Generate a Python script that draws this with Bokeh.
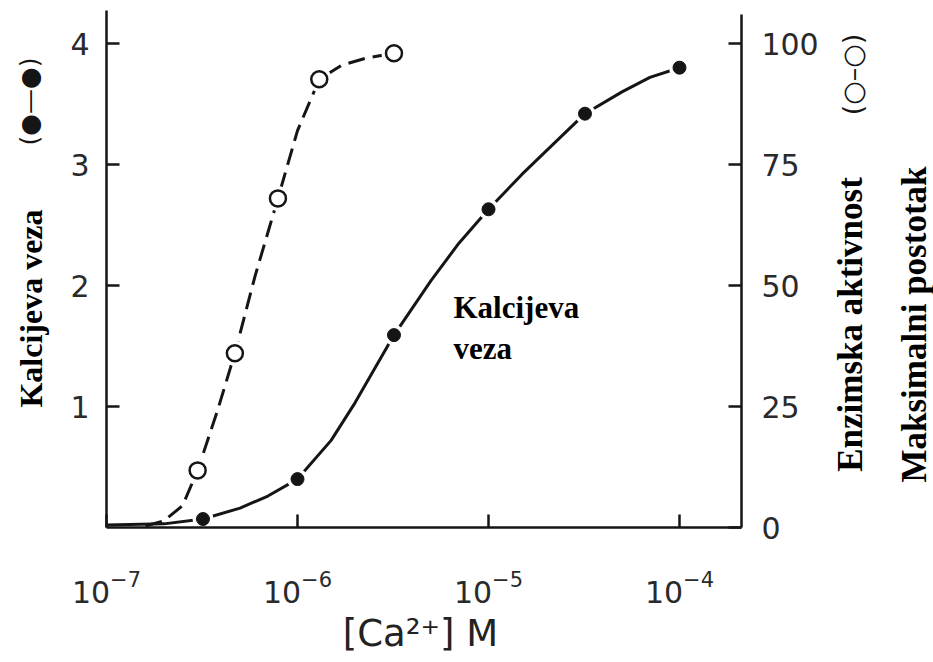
import math
from bokeh.plotting import figure
from bokeh.models import Range1d, LinearAxis, LogAxis, FixedTicker, Label, LogScale
from bokeh.embed import file_html
from bokeh.resources import INLINE

# ---- data ----
# calcium binding (filled circles, left axis)
ca_bind = [3.2e-7, 1.0e-6, 3.2e-6, 1.0e-5, 3.2e-5, 1.0e-4]
bind = [0.07, 0.40, 1.59, 2.63, 3.42, 3.80]
# enzyme activity (open circles, right axis, % of maximum)
ca_act = [3.0e-7, 4.7e-7, 7.9e-7, 1.3e-6, 3.2e-6]
act = [11.8, 36.0, 68.0, 92.6, 98.0]
# drawn smooth curves
curve_bind_x = [1.0e-7, 2.0e-7, 3.2e-7, 5.0e-7, 7.0e-7, 1.0e-6, 1.5e-6, 2.0e-6, 3.2e-6,
                5.0e-6, 7.0e-6, 1.0e-5, 1.5e-5, 2.0e-5, 3.2e-5, 5.0e-5, 7.0e-5, 1.0e-4]
curve_bind_y = [0.02, 0.03, 0.07, 0.16, 0.26, 0.40, 0.72, 1.03, 1.59,
                2.04, 2.35, 2.63, 2.92, 3.11, 3.42, 3.60, 3.72, 3.80]
curve_act_x = [1.6e-7, 2.0e-7, 2.5e-7, 3.0e-7, 3.8e-7, 4.7e-7, 6.0e-7, 7.9e-7,
               1.0e-6, 1.3e-6, 1.7e-6, 2.3e-6, 3.2e-6]
curve_act_y = [0.3, 1.4, 4.5, 11.8, 24.0, 36.0, 52.0, 68.0, 82.0, 92.6, 95.5, 97.0, 98.0]

x_ticks = [1e-7, 1e-6, 1e-5, 1e-4]
left_ticks = [1, 2, 3, 4]
right_ticks = [0, 25, 50, 75, 100]

# axis extents
x_min, x_max = 1e-7, 2.11e-4
y_max_left = 4.27
y_max_right = 106.0

INK = "#151515"
W, H = 933, 660
# layout: pixel position of x=1e-7 / y=0, pixels per decade / per unit
PX0, PY0, DEC, UNIT = 106, 527, 191.0, 121.0

xr = Range1d(10 ** (-7 - PX0 / DEC), 10 ** (-7 + (W - PX0) / DEC))
yr = Range1d(-(H - PY0) / UNIT, PY0 / UNIT)

p = figure(width=W, height=H, x_axis_type=None, y_axis_type=None,
           x_range=xr, y_range=yr, output_backend="svg", toolbar_location=None,
           min_border=0, min_border_left=0, min_border_right=0,
           min_border_top=0, min_border_bottom=0)
p.x_scale = LogScale()
p.extra_y_ranges = {"act": Range1d(yr.start * 25, yr.end * 25)}
p.grid.visible = False
p.outline_line_color = None
p.background_fill_color = "white"
p.border_fill_color = "white"

xaxis = LogAxis(fixed_location=0, bounds=(x_min, x_max), ticker=FixedTicker(ticks=x_ticks))
laxis = LinearAxis(fixed_location=x_min, bounds=(0, y_max_left), ticker=FixedTicker(ticks=left_ticks))
raxis = LinearAxis(y_range_name="act", fixed_location=x_max, bounds=(0, y_max_right),
                   ticker=FixedTicker(ticks=right_ticks))
p.add_layout(xaxis, "below")
p.add_layout(laxis, "left")
p.add_layout(raxis, "right")

for ax in (xaxis, laxis, raxis):
    ax.axis_line_width = 2.5
    ax.axis_line_color = INK
    ax.major_tick_in = 13
    ax.major_tick_out = 0
    ax.major_tick_line_width = 2.5
    ax.major_tick_line_color = INK
    ax.minor_tick_in = 0
    ax.minor_tick_out = 0
    ax.major_label_text_font = "DejaVu Sans"
    ax.major_label_text_font_size = "30px"
    ax.major_label_text_color = "#2a2a2a"

xaxis.major_label_standoff = 42
laxis.major_label_standoff = 17
raxis.major_label_standoff = 20

# curves
p.line(curve_bind_x, curve_bind_y, line_width=3, line_color=INK)
p.line(curve_act_x, curve_act_y, y_range_name="act", line_width=3,
       line_color=INK, line_dash="17 8")
# markers with a white halo
p.scatter(ca_bind, bind, size=21, fill_color="white", line_color=None)
p.scatter(ca_bind, bind, size=13, fill_color=INK, line_color=INK)
p.scatter(ca_act, act, y_range_name="act", size=25, fill_color="white", line_color=None)
p.scatter(ca_act, act, y_range_name="act", size=16, fill_color="white",
          line_color=INK, line_width=2.5)


def lab(text, sx, sy, size, font="Liberation Serif", style="bold", angle=0.0,
        align="center", baseline="middle", color="black"):
    p.add_layout(Label(x=sx, y=H - sy, x_units="screen", y_units="screen",
                       text=text, angle=angle, text_font=font, text_font_style=style,
                       text_font_size=f"{size}px", text_align=align,
                       text_baseline=baseline, text_color=color))


lab("Kalcijeva veza", 30, 308, 32, angle=math.pi / 2)
lab("Enzimska aktivnost", 850, 324, 35, angle=math.pi / 2)
lab("Maksimalni postotak", 914, 324, 35, angle=math.pi / 2)
lab("Kalcijeva", 453, 307, 31, align="left")
lab("veza", 453, 348, 31, align="left")
lab("[Ca²⁺] M", 420, 633, 37, font="DejaVu Sans", style="normal", color="#222222")
lab("(●—●)", 29, 101, 25, font="DejaVu Sans", style="normal", angle=math.pi / 2,
    color=INK)
lab("(○–○)", 852, 74, 27, font="DejaVu Sans", style="normal", angle=math.pi / 2,
    color=INK)

open("out.html", "w").write(file_html(p, INLINE))
